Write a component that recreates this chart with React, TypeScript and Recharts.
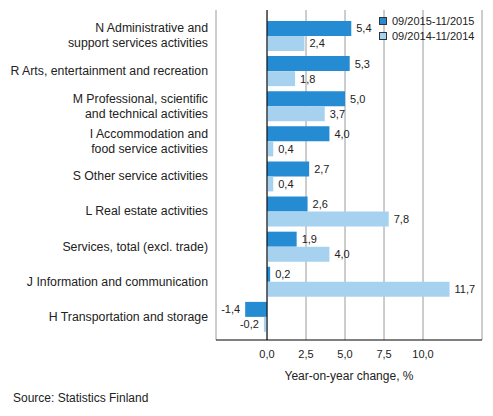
import React from "react";
import {
  BarChart,
  Bar,
  XAxis,
  YAxis,
  CartesianGrid,
  ReferenceLine,
  LabelList,
} from "recharts";

const categories = [
  "N Administrative and\nsupport services activities",
  "R Arts, entertainment and recreation",
  "M Professional, scientific\nand technical activities",
  "I Accommodation and\nfood service activities",
  "S Other service activities",
  "L Real estate activities",
  "Services, total (excl. trade)",
  "J Information and communication",
  "H Transportation and storage",
];
const current = [5.4, 5.3, 5.0, 4.0, 2.7, 2.6, 1.9, 0.2, -1.4];
const previous = [2.4, 1.8, 3.7, 0.4, 0.4, 7.8, 4.0, 11.7, -0.2];
const xTicks = [0, 2.5, 5, 7.5, 10];
const seriesNames = ["09/2015-11/2015", "09/2014-11/2014"];

const DARK = "#258bd3";
const LIGHT = "#a6d2ef";
const FONT = "'Liberation Sans', Arial, sans-serif";

const data = categories.map((name, i) => ({
  name,
  cur: current[i],
  prev: previous[i],
}));

const comma = (v: number) => v.toFixed(1).replace(".", ",");

function CategoryTick(props: any) {
  const { y, payload } = props;
  const lines = String(payload.value).split("\n");
  const start = y - ((lines.length - 1) * 15) / 2;
  return (
    <text
      x={208}
      y={start}
      textAnchor="end"
      fontSize={12.3}
      fontFamily={FONT}
      fill="#222"
    >
      {lines.map((l, i) => (
        <tspan key={i} x={208} y={start + i * 15} dy="0.35em">
          {l}
        </tspan>
      ))}
    </text>
  );
}

function LegendBox() {
  return (
    <div
      style={{
        position: "absolute",
        left: 379,
        top: 13,
        fontFamily: FONT,
        fontSize: 11,
        color: "#222",
      }}
    >
      {seriesNames.map((n, i) => (
        <div
          key={n}
          style={{ display: "flex", alignItems: "center", height: 15 }}
        >
          <span
            style={{
              display: "inline-block",
              width: 6,
              height: 6,
              background: i === 0 ? DARK : LIGHT,
              border: "1px solid #333",
              marginRight: 5,
            }}
          />
          {n}
        </div>
      ))}
    </div>
  );
}

export default function App() {
  return (
    <div
      style={{
        position: "absolute",
        left: 0,
        top: 0,
        width: 493,
        height: 416,
        background: "#fff",
      }}
    >
      <BarChart
        width={493}
        height={416}
        data={data}
        layout="vertical"
        margin={{ top: 10, right: 11, bottom: 0, left: 0 }}
        barGap={0}
      >
        <CartesianGrid horizontal={false} stroke="#9a9a9a" strokeWidth={1} />
        <XAxis
          type="number"
          domain={[-3.27, 13.78]}
          ticks={xTicks}
          tickFormatter={comma}
          axisLine={{ stroke: "#000" }}
          tickLine={false}
          tick={{ fontSize: 11, fontFamily: FONT, fill: "#222" }}
          tickMargin={4}
          height={76}
          allowDataOverflow
          label={{
            value: "Year-on-year change, %",
            position: "insideTop",
            offset: 31,
            fontSize: 12,
            fontFamily: FONT,
            fill: "#222",
          }}
        />
        <YAxis
          type="category"
          dataKey="name"
          width={216}
          axisLine={false}
          tickLine={false}
          tick={<CategoryTick />}
          interval={0}
          padding={{ top: 8, bottom: 6 }}
        />
        <Bar dataKey="cur" fill={DARK} barSize={15} isAnimationActive={false}>
          <LabelList
            dataKey="cur"
            position="right"
            offset={5}
            formatter={(v: any) => comma(Number(v))}
            style={{ fontSize: 11, fontFamily: FONT, fill: "#222" }}
          />
        </Bar>
        <Bar dataKey="prev" fill={LIGHT} barSize={15} isAnimationActive={false}>
          <LabelList
            dataKey="prev"
            position="right"
            offset={5}
            formatter={(v: any) => comma(Number(v))}
            style={{ fontSize: 11, fontFamily: FONT, fill: "#222" }}
          />
        </Bar>
        <ReferenceLine x={0} stroke="#000" strokeWidth={1} />
      </BarChart>
      <LegendBox />
      <div
        style={{
          position: "absolute",
          left: 13,
          top: 391,
          fontFamily: FONT,
          fontSize: 12,
          color: "#222",
        }}
      >
        Source: Statistics Finland
      </div>
    </div>
  );
}
